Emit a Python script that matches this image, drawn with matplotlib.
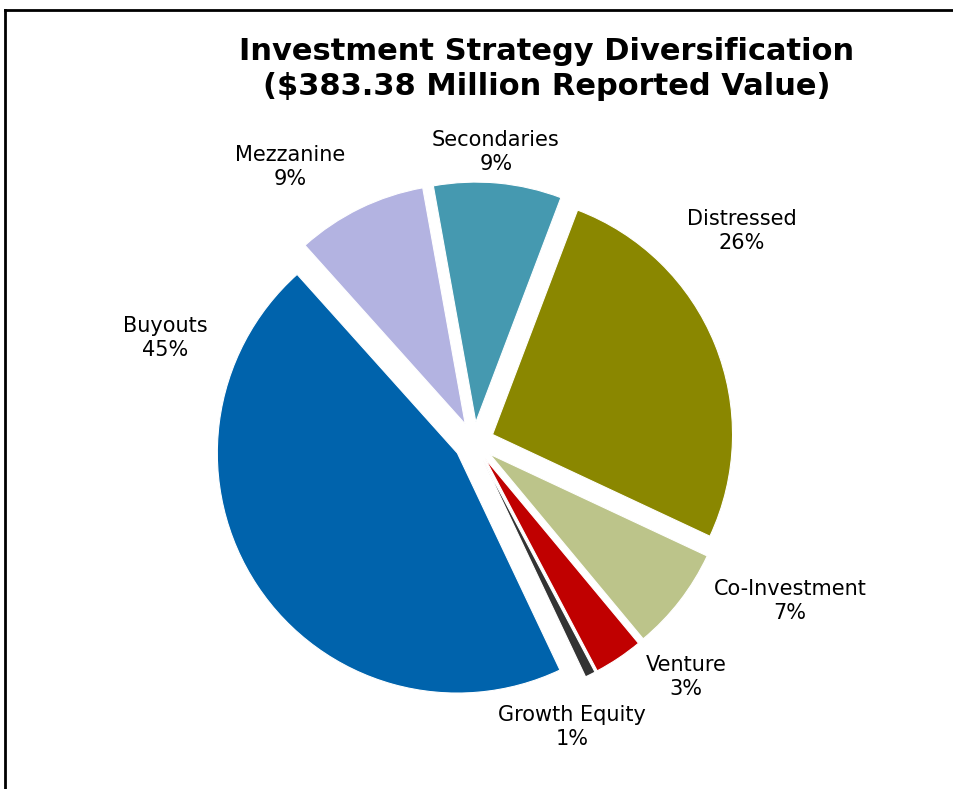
import matplotlib
matplotlib.use("Agg")
import matplotlib.pyplot as plt
from matplotlib.lines import Line2D

# ---- data ----
categories = ["Secondaries", "Distressed", "Co-Investment", "Venture",
              "Growth Equity", "Buyouts", "Mezzanine"]
shares = [8.6, 26.2, 7.0, 3.3, 0.7, 45.4, 8.8]   # percent
colors = ["#4599B0", "#8A8700", "#BCC48A", "#C00000",
          "#333333", "#0063AC", "#B3B3E1"]
title_lines = ["Investment Strategy Diversification",
               "($383.38 Million Reported Value)"]

# ---- layout (pixel units) ----
W, H = 954, 789
center = (474, H - 442)
radius = 240
explode_px = 20
start_angle = 100.2
label_pos = {
    "Secondaries": (496, 152),
    "Distressed": (742, 231),
    "Co-Investment": (790, 601),
    "Venture": (686, 677),
    "Growth Equity": (572, 727),
    "Buyouts": (165, 338),
    "Mezzanine": (290, 167),
}

fig = plt.figure(figsize=(W / 100, H / 100), dpi=100)
ax = fig.add_axes([0, 0, 1, 1])

ax.pie(shares, colors=colors, startangle=start_angle, counterclock=False,
       explode=[explode_px] * len(shares), center=center, radius=radius,
       normalize=True,
       wedgeprops=dict(edgecolor="white", linewidth=0.8), frame=True)
ax.set_xlim(0, W)
ax.set_ylim(0, H)
ax.set_aspect("auto")
ax.axis("off")

for cat, val in zip(categories, shares):
    x, y = label_pos[cat]
    ax.text(x, H - y, f"{cat}\n{round(val)}%", ha="center", va="center",
            fontsize=15, family="DejaVu Sans", linespacing=1.2, color="black")

ax.text(547, H - 69, "\n".join(title_lines), ha="center", va="center",
        fontsize=22, fontweight="bold", family="DejaVu Sans", linespacing=1.22)

# frame
fig.add_artist(Line2D([5 / W, 5 / W], [0, 1 - 10 / H], color="black", lw=2,
                      transform=fig.transFigure))
fig.add_artist(Line2D([5 / W, 1], [1 - 10 / H, 1 - 10 / H], color="black", lw=2,
                      transform=fig.transFigure))

fig.savefig("out.png", dpi=100)
